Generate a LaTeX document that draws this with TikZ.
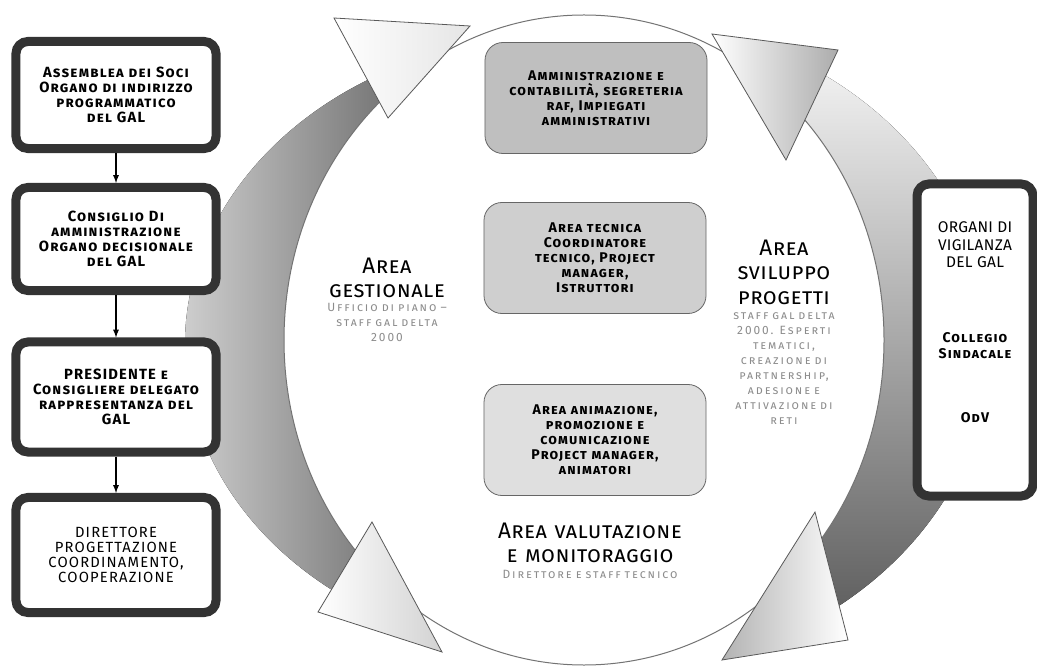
\documentclass[tikz,border=0pt]{standalone}
\usepackage{fontspec}
\setmainfont{Fira Sans}
\newfontfamily\orgfont{Fira Sans}[LetterSpace=8]
\newfontfamily\areafont{Fira Sans}[LetterSpace=2]
\newfontfamily\notefont{Fira Sans}[LetterSpace=16]
\usetikzlibrary{positioning,shadows}

\newdimen\px \px=0.25mm

\tikzset{
  orgbox/.style={draw=black!80, line width=9\px, fill=white, rounded corners=12\px,
    minimum width=200\px, text width=192\px, align=center, inner sep=1\px,
    drop shadow={shadow xshift=3\px, shadow yshift=-3\px, fill=gray!70},
    font=\orgfont\fontsize{10.5}{10.8}\selectfont\bfseries\scshape},
  areabox/.style={draw=black!60, line width=0.8\px, rounded corners=18\px,
    minimum width=222\px, minimum height=111\px, text width=216\px, align=center, inner sep=1\px,
    font=\orgfont\fontsize{10}{10.6}\selectfont\bfseries\scshape},
  areatitle/.style={align=center, text width=190\px, inner sep=0pt, text=black,
    font=\areafont\fontsize{16}{17.5}\selectfont\scshape},
  areanote/.style={align=center, text width=170\px, inner sep=0pt, text=black!45,
    font=\notefont\fontsize{8.5}{10.6}\selectfont\scshape},
  headtri/.style={draw=black!65, line width=0.8\px},
  conn/.style={-latex, line width=1.3\px, black},
}

\begin{document}
\begin{tikzpicture}[x=0.025cm, y=-0.025cm]
\path[use as bounding box] (0,0) rectangle (1037,668);
\clip (0,0) rectangle (1037,668);

%% grey swooshes behind the ring
\fill[left color=gray!25, right color=black!70]
  ([shift={(-105:380 and 310)}]565,345) arc[start angle=-105, end angle=-235, x radius=380, y radius=310]
  -- ([shift={(-235:300 and 325)}]584,340) arc[start angle=-235, end angle=-110, x radius=300, y radius=325] -- cycle;
\fill[top color=gray!8, bottom color=black!65]
  ([shift={(-62:390 and 330)}]600,345) arc[start angle=-62, end angle=62, x radius=390, y radius=330]
  -- ([shift={(55:300 and 325)}]584,340) arc[start angle=55, end angle=-55, x radius=300, y radius=325] -- cycle;

%% ring and arrow heads
\draw[fill=white, draw=black!55, line width=1\px] (584,340) ellipse [x radius=300, y radius=325];
\draw[headtri, left color=white, right color=gray!20] (334,18) -- (470,26) -- (388,118) -- cycle;
\draw[headtri, left color=white, right color=gray!65] (712,34) -- (838,50) -- (786,160) -- cycle;
\draw[headtri, left color=gray!60, right color=white] (815,512) -- (848,640) -- (722,660) -- cycle;
\draw[headtri, left color=white, right color=gray!35] (372,522) -- (442,652) -- (318,612) -- cycle;

%% governing bodies
\foreach \Name/\Y/\H/\Text in {%
  soci/95/107/{Assemblea dei Soci\\Organo di indirizzo\\programmatico\\del GAL},
  cda/239/103/{Consiglio Di\\amministrazione\\Organo decisionale\\del GAL},
  pres/397/110/{PRESIDENTE e\\Consigliere delegato\\rappresentanza del\\GAL},
  dir/555/115/{\mdseries DIRETTORE\\PROGETTAZIONE\\COORDINAMENTO,\\COOPERAZIONE}%
  }
  \node[orgbox, minimum height=\H\px] (\Name) at (116,\Y) {\Text};
\foreach \From/\To in {soci/cda, cda/pres, pres/dir}
  \draw[conn] (\From) -- (\To);

%% staff areas
\node[areabox, fill=gray!50] (amm) at (596,98) {Amministrazione e\\contabilità, segreteria\\raf, Impiegati\\amministrativi};
\node[areabox, fill=gray!38] (tec) at (595,258) {Area tecnica\\Coordinatore\\tecnico, Project\\manager,\\Istruttori};
\node[areabox, fill=gray!25] (ani) at (595,440) {Area animazione,\\promozione e\\comunicazione\\Project manager,\\animatori};

%% ring labels
\node[areatitle] (gest) at (387,278) {Area\\gestionale};
\node[areanote, below=5\px of gest] (gestnote) {Ufficio di piano –\\staff gal delta\\2000};
\node[areatitle] (svil) at (784,272) {Area\\sviluppo\\progetti};
\node[areanote, below=8\px of svil] (svilnote) {staff gal delta\\2000. Esperti\\tematici,\\creazione di\\partnership,\\adesione e\\attivazione di\\reti};
\node[areatitle, text width=260\px] (valu) at (590,543) {Area valutazione\\e monitoraggio};
\node[areanote, text width=220\px, below=7\px of valu] (valunote) {Direttore e staff tecnico};

%% supervisory bodies
\node[orgbox, minimum width=116\px, minimum height=312\px, text width=100\px] (vig) at (975,340) {};
\node[font=\areafont\fontsize{11}{12.5}\selectfont, align=center] (vigtitle) at (975,245) {ORGANI DI\\VIGILANZA\\DEL GAL};
\node[font=\orgfont\fontsize{10}{11.5}\selectfont\bfseries\scshape, align=center] (coll) at (975,346) {Collegio\\Sindacale};
\node[font=\orgfont\fontsize{10}{11.5}\selectfont\bfseries\scshape] (odv) at (975,418) {OdV};
\end{tikzpicture}
\end{document}
